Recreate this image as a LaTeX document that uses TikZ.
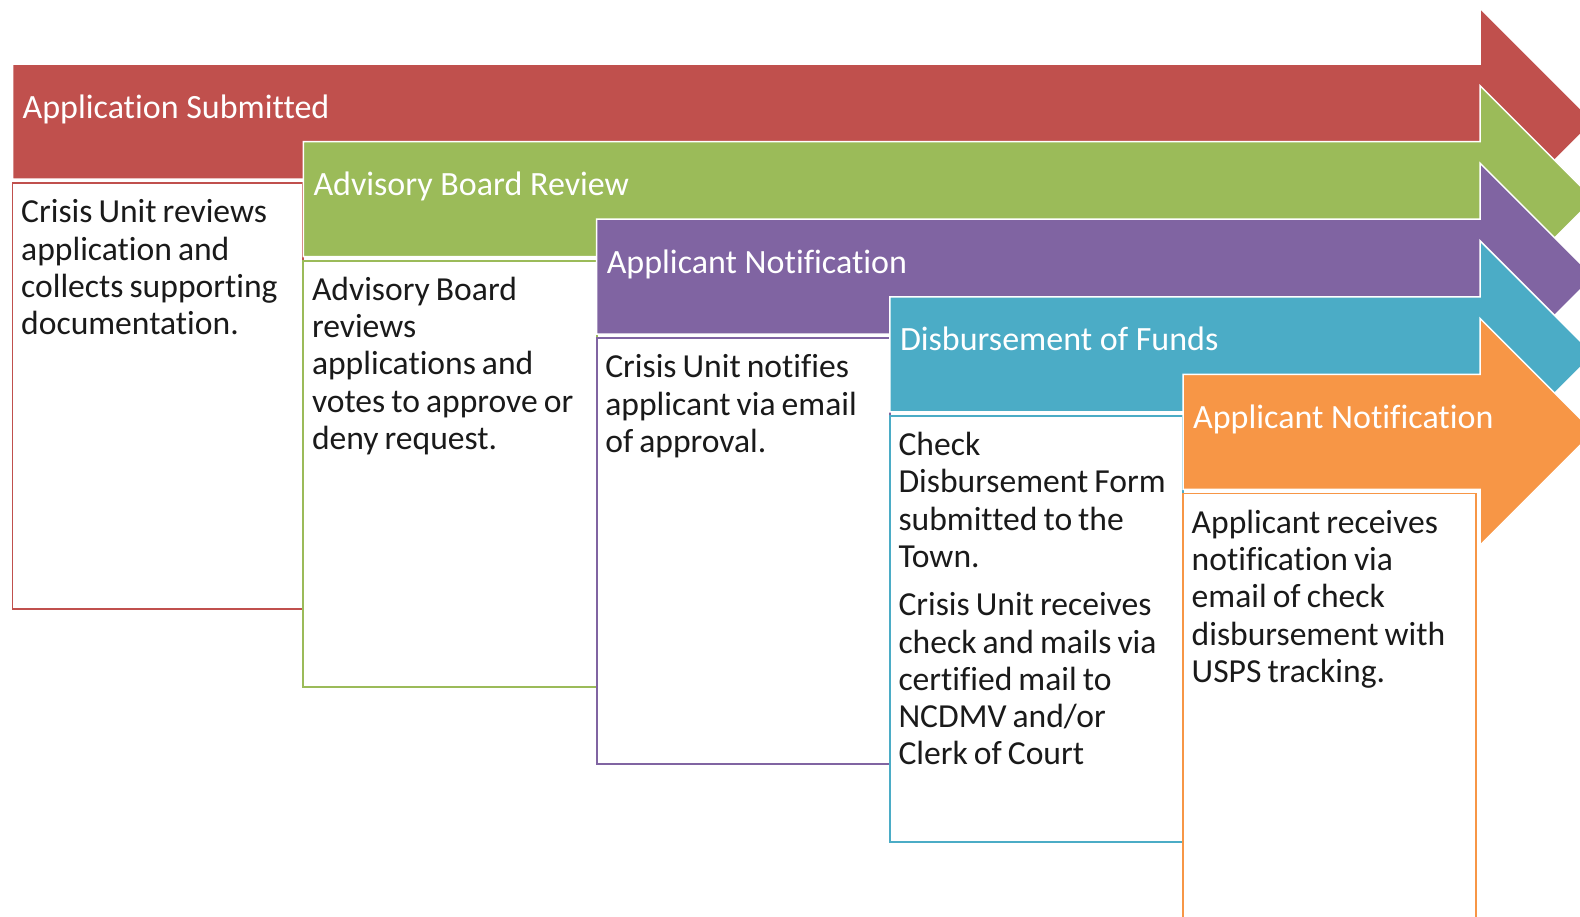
\documentclass[tikz,border=0pt]{standalone}
\usepackage{fontspec}
\setmainfont{Carlito}[Ligatures={NoCommon,NoRare,NoContextual}]
\definecolor{cRed}{HTML}{C0504D}
\definecolor{cGreen}{HTML}{9BBB59}
\definecolor{cPurple}{HTML}{8064A2}
\definecolor{cBlue}{HTML}{4BACC6}
\definecolor{cOrange}{HTML}{F79646}
\definecolor{bodytext}{HTML}{1A1A1A}
\tikzset{
  stagearrow/.style={fill=#1, draw=white, line width=1.5pt, line join=miter},
  stagebox/.style={fill=white, draw=#1, line width=1.8pt},
  stagetitle/.style={anchor=base west, inner sep=0pt, text=white, font=\fontsize{34}{40}\selectfont},
  stagebody/.style={anchor=base west, inner sep=0pt, text=bodytext},
}
\newcommand{\bodytxt}[1]{\parbox[t]{285pt}{\raggedright\fontsize{33.6}{37.3}\selectfont\spaceskip=0.18em plus 0.05em minus 0.02em #1}}
\begin{document}
\begin{tikzpicture}[x=1pt,y=-1pt]
\useasboundingbox (0,0) rectangle (1580,916);
\clip (0,0) rectangle (1580,916);
\foreach \i/\c/\xl/\xr in {0/cRed/12.5/303.3, 1/cGreen/303.3/596.6, 2/cPurple/596.6/889.8, 3/cBlue/889.8/1183, 4/cOrange/1183/1476}{
  \pgfmathsetmacro\t{64+77.6*\i}
  \pgfmathsetmacro\b{\t+115}
  \pgfmathsetmacro\m{\t+57.5}
  \pgfmathsetmacro\ht{\t-56}
  \pgfmathsetmacro\hb{\b+56}
  \pgfmathsetmacro\bt{\t+119}
  \pgfmathsetmacro\bb{\bt+426}
  \draw[stagearrow=\c] (\xl,\t) -- (1480,\t) -- (1480,\ht) -- (1593.5,\m) -- (1480,\hb) -- (1480,\b) -- (\xl,\b) -- cycle;
  \draw[stagebox=\c] (\xl,\bt) rectangle (\xr,\bb);
}
\node[stagetitle] (t1) at (22.5,118) {Application Submitted};
\node[stagetitle] (t2) at (313.3,195.6) {Advisory Board Review};
\node[stagetitle] (t3) at (606.6,273.2) {Applicant Notification};
\node[stagetitle] (t4) at (899.8,350.8) {Disbursement of Funds};
\node[stagetitle] (t5) at (1193,428.4) {Applicant Notification};

\node[stagebody] (b1) at (21,222.7) {\bodytxt{Crisis Unit reviews\\application and\\collects supporting\\documentation.}};
\node[stagebody] (b2) at (311.8,300.3) {\bodytxt{Advisory Board\\reviews\\applications and\\votes to approve or\\deny request.}};
\node[stagebody] (b3) at (605.1,377.9) {\bodytxt{Crisis Unit notifies\\applicant via email\\of approval.}};
\node[stagebody] (b4) at (898.3,455.5) {\bodytxt{Check\\Disbursement Form\\submitted to the\\Town.\\[11pt]Crisis Unit receives\\check and mails via\\certified mail to\\NCDMV and/or\\Clerk of Court}};
\node[stagebody] (b5) at (1191.5,533.1) {\bodytxt{Applicant receives\\notification via\\email of check\\disbursement with\\USPS tracking.}};
\end{tikzpicture}
\end{document}
